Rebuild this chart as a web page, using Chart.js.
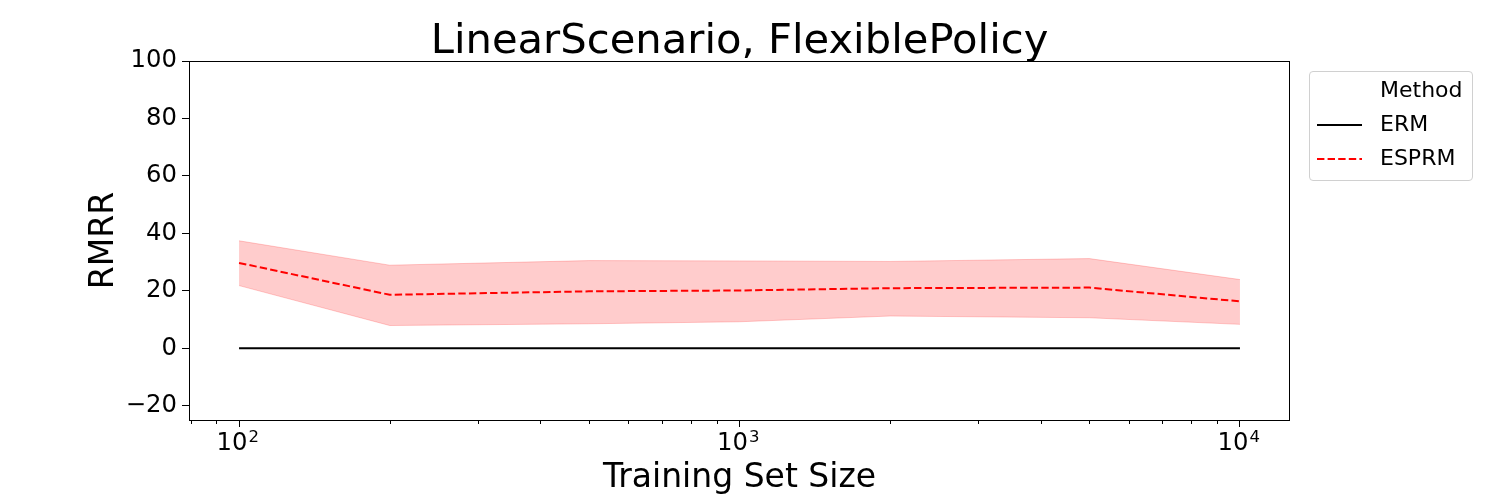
<!DOCTYPE html>
<html>
<head>
<meta charset="utf-8">
<script src="https://cdn.jsdelivr.net/npm/chart.js@4.4.0/dist/chart.umd.min.js"></script>
<style>
  body { margin: 0; background: #fff; font-family: "DejaVu Sans", sans-serif; }
  #wrap { position: relative; width: 1500px; height: 500px; }
  #title { position: absolute; left: 189px; width: 1101px; top: 18px; text-align: center;
           font-size: 41.7px; line-height: 41.7px; white-space: nowrap; color: #000; }
  #legend { position: absolute; left: 1309px; top: 71px; width: 162px; height: 108px;
            border: 1px solid #d0d0d0; border-radius: 4px; background: #fff; font-size: 22px; }
  #legend .row { position: absolute; left: 0; width: 100%; height: 30px; }
  #legend .row span { position: absolute; left: 70px; top: 1px; }
  #legend svg { position: absolute; left: 7px; top: 9px; }
</style>
</head>
<body>
<div id="wrap">
  <canvas id="mycan" width="1500" height="500"></canvas>
  <div id="title">LinearScenario, FlexiblePolicy</div>
  <div id="legend">
    <div class="row" style="top:4px"><span>Method</span></div>
    <div class="row" style="top:38px">
      <svg width="46" height="12"><line x1="0" y1="6" x2="45" y2="6" stroke="#000" stroke-width="2"/></svg>
      <span>ERM</span>
    </div>
    <div class="row" style="top:72px">
      <svg width="46" height="12"><line x1="0" y1="6" x2="45" y2="6" stroke="red" stroke-width="2" stroke-dasharray="7.4 3.2"/></svg>
      <span>ESPRM</span>
    </div>
  </div>
</div>
<script>
// training set sizes (x, log scale)
var sizes = [100, 200, 500, 1000, 2000, 5000, 10000];
// ERM baseline
var erm = [0, 0, 0, 0, 0, 0, 0];
// ESPRM mean and band
var esprm = [29.7, 18.6, 19.8, 20.1, 20.9, 21.1, 16.3];
var esprmUpper = [37.4, 28.9, 30.5, 30.4, 30.2, 31.2, 23.9];
var esprmLower = [21.8, 7.9, 8.5, 9.2, 11.2, 10.6, 8.3];

var xTicks = [100, 1000, 10000];
var xTickBase = '10';
var xTickExp = ['2', '3', '4'];
var xMinorTicks = [80, 90, 200, 300, 400, 500, 600, 700, 800, 900,
                   2000, 3000, 4000, 5000, 6000, 7000, 8000, 9000];
var yTicks = [-20, 0, 20, 40, 60, 80, 100];

function pts(ys) {
  var out = [];
  for (var i in sizes) out.push({x: sizes[i], y: ys[i]});
  return out;
}

var font = "'DejaVu Sans', sans-serif";
var tickSize = 24.3;

// frame, minor ticks and the exponents of the x labels
var framePlugin = {
  id: 'frame',
  afterDraw: function(chart) {
    var ctx = chart.ctx, a = chart.chartArea, xs = chart.scales.x;
    ctx.save();
    ctx.strokeStyle = '#000';
    ctx.lineWidth = 1;
    ctx.strokeRect(a.left + 0.5, a.top + 0.5, a.right - a.left - 1, a.bottom - a.top);
    ctx.beginPath();
    for (var i = 0; i < xMinorTicks.length; i++) {
      var px = Math.round(xs.getPixelForValue(xMinorTicks[i])) + 0.5;
      ctx.moveTo(px, a.bottom);
      ctx.lineTo(px, a.bottom + 4);
    }
    ctx.stroke();
    ctx.font = tickSize + 'px ' + font;
    var w = ctx.measureText(xTickBase).width;
    ctx.font = '16.5px ' + font;
    ctx.fillStyle = '#000';
    ctx.textBaseline = 'alphabetic';
    ctx.textAlign = 'left';
    for (var j = 0; j < xTicks.length; j++) {
      var cx = xs.getPixelForValue(xTicks[j]) - 7;
      ctx.fillText(xTickExp[j], cx + w / 2 + 1, a.bottom + 22);
    }
    ctx.restore();
  }
};

var ctx = document.getElementById('mycan');
var chart = new Chart(ctx, {
  type: 'line',
  data: {
    datasets: [
      {
        label: 'ESPRM', data: pts(esprm), borderColor: 'red', borderWidth: 2,
        borderDash: [7.4, 3.2], pointRadius: 0, fill: false, order: 0, tension: 0
      },
      {
        label: 'ERM', data: pts(erm), borderColor: '#000', borderWidth: 2,
        pointRadius: 0, fill: false, order: 1, tension: 0
      },
      {
        label: 'upper', data: pts(esprmUpper), borderColor: 'rgba(255,0,0,0.2)', borderWidth: 1,
        backgroundColor: 'rgba(255,0,0,0.2)', pointRadius: 0, fill: '+1', order: 2, tension: 0
      },
      {
        label: 'lower', data: pts(esprmLower), borderColor: 'rgba(255,0,0,0.2)', borderWidth: 1,
        pointRadius: 0, fill: false, order: 3, tension: 0
      }
    ]
  },
  options: {
    responsive: false,
    animation: false,
    layout: { padding: { left: 0, right: 210, top: 61, bottom: 0 } },
    plugins: {
      legend: { display: false },
      tooltip: { enabled: false },
      title: { display: false }
    },
    scales: {
      x: {
        type: 'logarithmic', min: 79.43, max: 12589.25,
        border: { display: false },
        grid: { drawOnChartArea: false, drawTicks: true, tickLength: 7, tickColor: '#000' },
        ticks: {
          color: '#000', padding: 2, font: { family: font, size: tickSize },
          autoSkip: false, maxRotation: 0, labelOffset: -7,
          callback: function(v) { return xTicks.indexOf(v) >= 0 ? xTickBase : ''; }
        },
        afterBuildTicks: function(s) { s.ticks = xTicks.map(function(v) { return {value: v}; }); },
        afterFit: function(s) { s.height = 80; },
        title: {
          display: true, text: 'Training Set Size', color: '#000',
          font: { family: font, size: 33 }, padding: { top: 0, bottom: 1.5 }
        }
      },
      y: {
        min: -25, max: 100,
        border: { display: false },
        grid: { drawOnChartArea: false, drawTicks: true, tickLength: 7, tickColor: '#000' },
        ticks: {
          color: '#000', padding: 5, font: { family: font, size: tickSize },
          callback: function(v) { return v < 0 ? '\u2212' + Math.abs(v) : '' + v; }
        },
        afterBuildTicks: function(s) { s.ticks = yTicks.map(function(v) { return {value: v}; }); },
        afterFit: function(s) { s.width = 189; },
        title: {
          display: true, text: 'RMRR', color: '#000',
          font: { family: font, size: 33 }, padding: { top: 84.5, bottom: 0 }
        }
      }
    }
  },
  plugins: [framePlugin]
});
</script>
</body>
</html>
